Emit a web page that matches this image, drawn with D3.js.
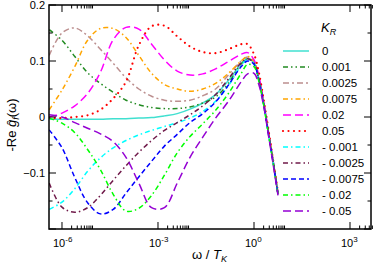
<!DOCTYPE html>
<html>
<head>
<meta charset="utf-8">
<script src="https://cdnjs.cloudflare.com/ajax/libs/d3/7.8.5/d3.min.js"></script>
<style>
  body { margin: 0; background: #ffffff; }
  svg { font-family: "Liberation Sans", Arial, Helvetica, sans-serif; }
</style>
</head>
<body>
<svg id="plot"></svg>
<script>
// log10(omega / T_K) grid shared by every curve
const logW = [-6.4, -6.0, -5.6, -5.2, -4.8, -4.4, -4.0, -3.6, -3.2, -2.8, -2.4, -2.0,
              -1.6, -1.2, -0.8, -0.4, -0.2, 0, 0.15, 0.3, 0.45, 0.6, 0.75];

// -Re g_f(omega) for each K_R
const kZero  = [-0.004, -0.004, -0.004, -0.004, -0.004, -0.003, -0.003, -0.002, -0.001, 0.002, 0.006, 0.014, 0.025, 0.040, 0.065, 0.095, 0.104, 0.097, 0.068, 0.025, -0.028, -0.080, -0.137];
const kP001  = [0.156, 0.137, 0.108, 0.079, 0.060, 0.044, 0.030, 0.022, 0.017, 0.015, 0.015, 0.018, 0.025, 0.036, 0.060, 0.095, 0.104, 0.097, 0.068, 0.025, -0.028, -0.080, -0.137];
const kP0025 = [0.110, 0.150, 0.159, 0.145, 0.121, 0.096, 0.070, 0.050, 0.037, 0.030, 0.028, 0.030, 0.038, 0.050, 0.075, 0.100, 0.107, 0.098, 0.069, 0.026, -0.027, -0.080, -0.137];
const kP0075 = [0.013, 0.048, 0.090, 0.137, 0.158, 0.158, 0.142, 0.110, 0.078, 0.058, 0.050, 0.046, 0.050, 0.060, 0.078, 0.100, 0.108, 0.099, 0.070, 0.026, -0.027, -0.080, -0.137];
const kP02   = [0.000, 0.007, 0.020, 0.042, 0.080, 0.138, 0.160, 0.157, 0.130, 0.102, 0.082, 0.075, 0.077, 0.086, 0.099, 0.112, 0.115, 0.102, 0.074, 0.028, -0.025, -0.079, -0.136];
const kP05   = [-0.002, -0.002, 0.000, 0.003, 0.013, 0.033, 0.063, 0.128, 0.162, 0.163, 0.144, 0.126, 0.116, 0.114, 0.121, 0.130, 0.130, 0.112, 0.080, 0.032, -0.022, -0.078, -0.135];
const kM001  = [-0.165, -0.152, -0.128, -0.097, -0.073, -0.055, -0.042, -0.032, -0.024, -0.017, -0.010, -0.002, 0.010, 0.028, 0.056, 0.092, 0.103, 0.096, 0.067, 0.024, -0.029, -0.081, -0.138];
const kM0025 = [-0.118, -0.161, -0.170, -0.162, -0.140, -0.113, -0.087, -0.063, -0.042, -0.024, -0.010, 0.004, 0.020, 0.040, 0.068, 0.097, 0.104, 0.096, 0.067, 0.024, -0.029, -0.081, -0.138];
const kM0075 = [-0.023, -0.055, -0.108, -0.153, -0.173, -0.165, -0.136, -0.107, -0.079, -0.052, -0.031, -0.010, 0.006, 0.027, 0.057, 0.090, 0.100, 0.094, 0.066, 0.023, -0.030, -0.082, -0.138];
const kM02   = [-0.002, -0.011, -0.028, -0.058, -0.094, -0.138, -0.168, -0.163, -0.140, -0.104, -0.064, -0.035, -0.012, 0.012, 0.042, 0.078, 0.094, 0.090, 0.064, 0.022, -0.030, -0.082, -0.138];
const kM05   = [0.004, 0.000, -0.010, -0.020, -0.030, -0.044, -0.072, -0.118, -0.162, -0.162, -0.118, -0.072, -0.036, -0.002, 0.028, 0.063, 0.077, 0.078, 0.058, 0.020, -0.032, -0.085, -0.140];

const kLabels = ["0", "0.001", "0.0025", "0.0075", "0.02", "0.05",
                 "- 0.001", "- 0.0025", "- 0.0075", "- 0.02", "- 0.05"];
const kValues = [kZero, kP001, kP0025, kP0075, kP02, kP05, kM001, kM0025, kM0075, kM02, kM05];

const xMajor = [1e-6, 1e-3, 1, 1e3];
const xMinorMult = [2, 3, 4, 5, 6, 7, 8, 9];
const yMajor = [0.2, 0.1, 0, -0.1, -0.2];
const yMinor = [0.15, 0.05, -0.05, -0.15];
const yLabelled = [0.2, 0.1, 0, -0.1];

// line styles
const colors = ["#40e0d0", "#228b22", "#bc8f8f", "#ffa500", "#ff00ff", "#ff0000",
                "#00ffff", "#701a4a", "#0000ff", "#00ff00", "#9400d3"];
const dashes = [null, "5,3,1.5,3,1.5,3", "6,3,2,3", "5,3,1.5,3", "8,4", "0,5.5",
                "5,3,1.5,3", "5,3,1.5,3", "5,3", "5,3,1.5,3", "8,4"];

let width = 374;
let height = 267;
let margin = { top: 5, bottom: 38, left: 49, right: 3 };

let svg = d3.select('#plot')
    .attr('width', width)
    .attr('height', height)
    .style('background', '#FFFFFF');

let xScale = d3.scaleLog()
    .domain([Math.pow(10, -6.406), Math.pow(10, 3.656)])
    .range([margin.left, width - margin.right]);

let yScale = d3.scaleLinear()
    .domain([-0.2, 0.2])
    .range([height - margin.bottom, margin.top]);

const x0 = margin.left, x1 = width - margin.right;
const y0 = height - margin.bottom, y1 = margin.top;

svg.append('clipPath').attr('id', 'clip')
    .append('rect')
    .attr('x', x0).attr('y', y1)
    .attr('width', x1 - x0).attr('height', y0 - y1);

// curves
const line = d3.line()
    .x(d => xScale(Math.pow(10, d[0])))
    .y(d => yScale(d[1]))
    .curve(d3.curveCatmullRom.alpha(0.5));

let curves = svg.append('g').attr('clip-path', 'url(#clip)');
kValues.forEach((vals, i) => {
    curves.append('path')
        .datum(logW.map((l, j) => [l, vals[j]]))
        .attr('d', line)
        .attr('fill', 'none')
        .attr('stroke', colors[i])
        .attr('stroke-width', i === 5 ? 2.2 : 1.5)
        .attr('stroke-linecap', i === 5 ? 'round' : 'butt')
        .attr('stroke-dasharray', dashes[i]);
});

// ticks
let ticks = svg.append('g').attr('stroke', '#000').attr('stroke-width', 1);
const majorLen = 7, minorLen = 3.5;
xMajor.forEach(m => {
    let px = xScale(m);
    ticks.append('line').attr('x1', px).attr('x2', px).attr('y1', y0).attr('y2', y0 - majorLen);
    ticks.append('line').attr('x1', px).attr('x2', px).attr('y1', y1).attr('y2', y1 + majorLen);
    xMinorMult.forEach(k => {
        let q = xScale(m * k);
        ticks.append('line').attr('x1', q).attr('x2', q).attr('y1', y0).attr('y2', y0 - minorLen);
        ticks.append('line').attr('x1', q).attr('x2', q).attr('y1', y1).attr('y2', y1 + minorLen);
    });
});
yMajor.forEach(v => {
    let py = yScale(v);
    ticks.append('line').attr('x1', x0).attr('x2', x0 + majorLen).attr('y1', py).attr('y2', py);
    ticks.append('line').attr('x1', x1).attr('x2', x1 - majorLen).attr('y1', py).attr('y2', py);
});
yMinor.forEach(v => {
    let py = yScale(v);
    ticks.append('line').attr('x1', x0).attr('x2', x0 + minorLen).attr('y1', py).attr('y2', py);
    ticks.append('line').attr('x1', x1).attr('x2', x1 - minorLen).attr('y1', py).attr('y2', py);
});

// frame
svg.append('rect')
    .attr('x', x0).attr('y', y1)
    .attr('width', x1 - x0).attr('height', y0 - y1)
    .attr('fill', 'none')
    .attr('stroke', '#000')
    .attr('stroke-width', 1.5);

// tick labels
svg.selectAll('.ylab')
    .data(yLabelled)
    .enter()
    .append('text')
    .attr('class', 'ylab')
    .attr('x', x0 - 4)
    .attr('y', d => yScale(d))
    .attr('dy', '0.35em')
    .attr('text-anchor', 'end')
    .style('font-size', '11px')
    .text(d => d === 0 ? '0' : d3.format('.1f')(d));

xMajor.forEach(m => {
    let t = svg.append('text')
        .attr('x', xScale(m) - 9)
        .attr('y', y0 + 18)
        .style('font-size', '11px');
    t.append('tspan').text('10');
    t.append('tspan')
        .attr('dy', -5)
        .style('font-size', '8px')
        .text(Math.round(Math.log10(m)));
});

// axis titles
let xt = svg.append('text')
    .attr('x', 192)
    .attr('y', 259)
    .style('font-size', '13px');
xt.append('tspan').text('ω / ');
xt.append('tspan').style('font-style', 'italic').text('T');
xt.append('tspan').attr('dy', 3).style('font-size', '9px').style('font-style', 'italic').text('K');

let yt = svg.append('text')
    .attr('transform', 'translate(16, 125) rotate(-90)')
    .attr('text-anchor', 'middle')
    .style('font-size', '13px');
yt.append('tspan').text('-Re ');
yt.append('tspan').style('font-style', 'italic').text('ĝ');
yt.append('tspan').attr('dy', 3).style('font-size', '9px').style('font-style', 'italic').text('f');
yt.append('tspan').attr('dy', -3).text('(ω)');

// legend
let legend = svg.append('g');
let lt = legend.append('text')
    .attr('x', 321)
    .attr('y', 32)
    .style('font-size', '13px');
lt.append('tspan').style('font-style', 'italic').text('K');
lt.append('tspan').attr('dy', 3).style('font-size', '9px').style('font-style', 'italic').text('R');

kLabels.forEach((lab, i) => {
    let ly = 51 + 16 * i;
    legend.append('line')
        .attr('x1', 283).attr('x2', 309)
        .attr('y1', ly).attr('y2', ly)
        .attr('stroke', colors[i])
        .attr('stroke-width', i === 5 ? 2.2 : 1.5)
        .attr('stroke-linecap', i === 5 ? 'round' : 'butt')
        .attr('stroke-dasharray', dashes[i]);
    legend.append('text')
        .attr('x', 322)
        .attr('y', ly)
        .attr('dy', '0.35em')
        .style('font-size', '11.5px')
        .text(lab);
});
</script>
</body>
</html>
